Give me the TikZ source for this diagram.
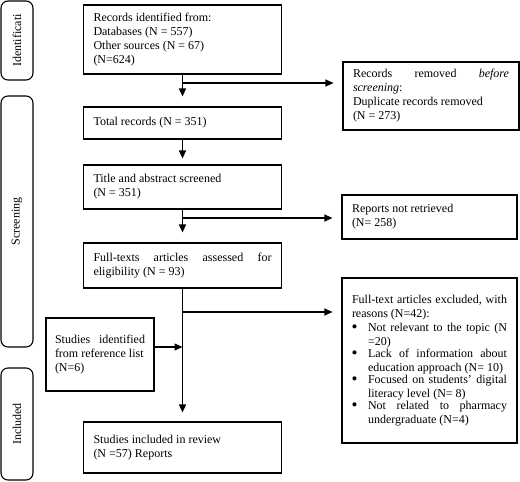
\documentclass[tikz,border=0pt]{standalone}
\usepackage{fontspec}
\setmainfont{Liberation Serif}
\usetikzlibrary{arrows.meta}
\newcommand\bitem[1]{\par\noindent\makebox[16pt][l]{\hspace{-0.5pt}\raisebox{-1.2pt}{\fontsize{17}{14}\selectfont\textbullet}}\parbox[t]{139pt}{#1}\par}
\begin{document}
\begin{tikzpicture}[x=1pt,y=-1pt,
  box/.style={draw, line width=1.1pt, rectangle, inner xsep=10pt, inner ysep=2pt,
    align=justify, font=\fontsize{12}{14}\selectfont},
  side/.style={draw, line width=1.1pt, rounded corners=7pt, rotate=90,
    inner sep=0pt, font=\fontsize{12}{14}\selectfont},
  arr/.style={line width=1.1pt, -{Triangle[length=8pt,width=7pt]}}]
\useasboundingbox (0,0) rectangle (520,482);

% side labels
\node[side, minimum width=79pt, minimum height=32pt] (sI) at (17,40.5) {Identificati};
\node[side, minimum width=251pt, minimum height=32pt] (sS) at (17,221.5) {Screening};
\node[side, minimum width=112pt, minimum height=32pt] (sN) at (17,424) {Included};

% main column
\node[box, text width=178pt, minimum height=69pt] (rec) at (182.5,39.5)
  {Records identified from:\\ Databases (N = 557)\\ Other sources (N = 67)\\ (N=624)};
\node[box, text width=178pt, minimum height=32pt] (tot) at (182.5,123)
  {Total records (N = 351)};
\node[box, text width=178pt, minimum height=44pt] (tit) at (182.5,187)
  {Title and abstract screened\\ (N = 351)};
\node[box, text width=178pt, minimum height=45pt] (full) at (182.5,265.5)
  {Full-texts articles assessed for\linebreak eligibility (N = 93)};
\node[box, inner xsep=9pt, text width=90pt, minimum height=73pt] (sid) at (100,354.5)
  {Studies identified\linebreak from reference list\\ (N=6)};
\node[box, text width=178pt, minimum height=51pt] (inc) at (182.5,447.5)
  {Studies included in review\\ (N =57) Reports};

% right column
\node[box, text width=156pt, minimum height=68pt] (rem) at (431,96)
  {Records removed \textit{before}\linebreak \textit{screening}:\\ Duplicate records removed\\ (N = 273)};
\node[box, text width=155pt, minimum height=44pt] (ret) at (429.5,217)
  {Reports not retrieved\\ (N= 258)};
\node[box, text width=155pt, minimum height=165pt] (exc) at (429.5,360.5)
  {Full-text articles excluded, with\linebreak reasons (N=42):
   \bitem{Not relevant to the topic (N\linebreak =20)}%
   \bitem{Lack of information about\linebreak education approach (N= 10)}%
   \bitem{Focused on students’ digital\linebreak literacy level (N= 8)}%
   \bitem{Not related to pharmacy\linebreak undergraduate (N=4)}};

% branch points
\coordinate (b1) at (182.5,83);
\coordinate (b2) at (182.5,218);
\coordinate (b3) at (182.5,312);
\coordinate (b4) at (182.5,347);

% connectors
\draw[arr, shorten >=10pt] (rec.south) -- (tot.north);
\draw[arr, shorten >=9pt] (b1) -- (b1 -| rem.west);
\draw[arr, shorten >=6pt] (tot.south) -- (tit.north);
\draw[arr, shorten >=10pt] (tit.south) -- (full.north);
\draw[arr, shorten >=9pt] (b2) -- (b2 -| ret.west);
\draw[arr, shorten >=9pt] (full.south) -- (inc.north);
\draw[arr, shorten >=9pt] (b3) -- (b3 -| exc.west);
\draw[arr] (sid.east |- b4) -- (b4);
\end{tikzpicture}
\end{document}
